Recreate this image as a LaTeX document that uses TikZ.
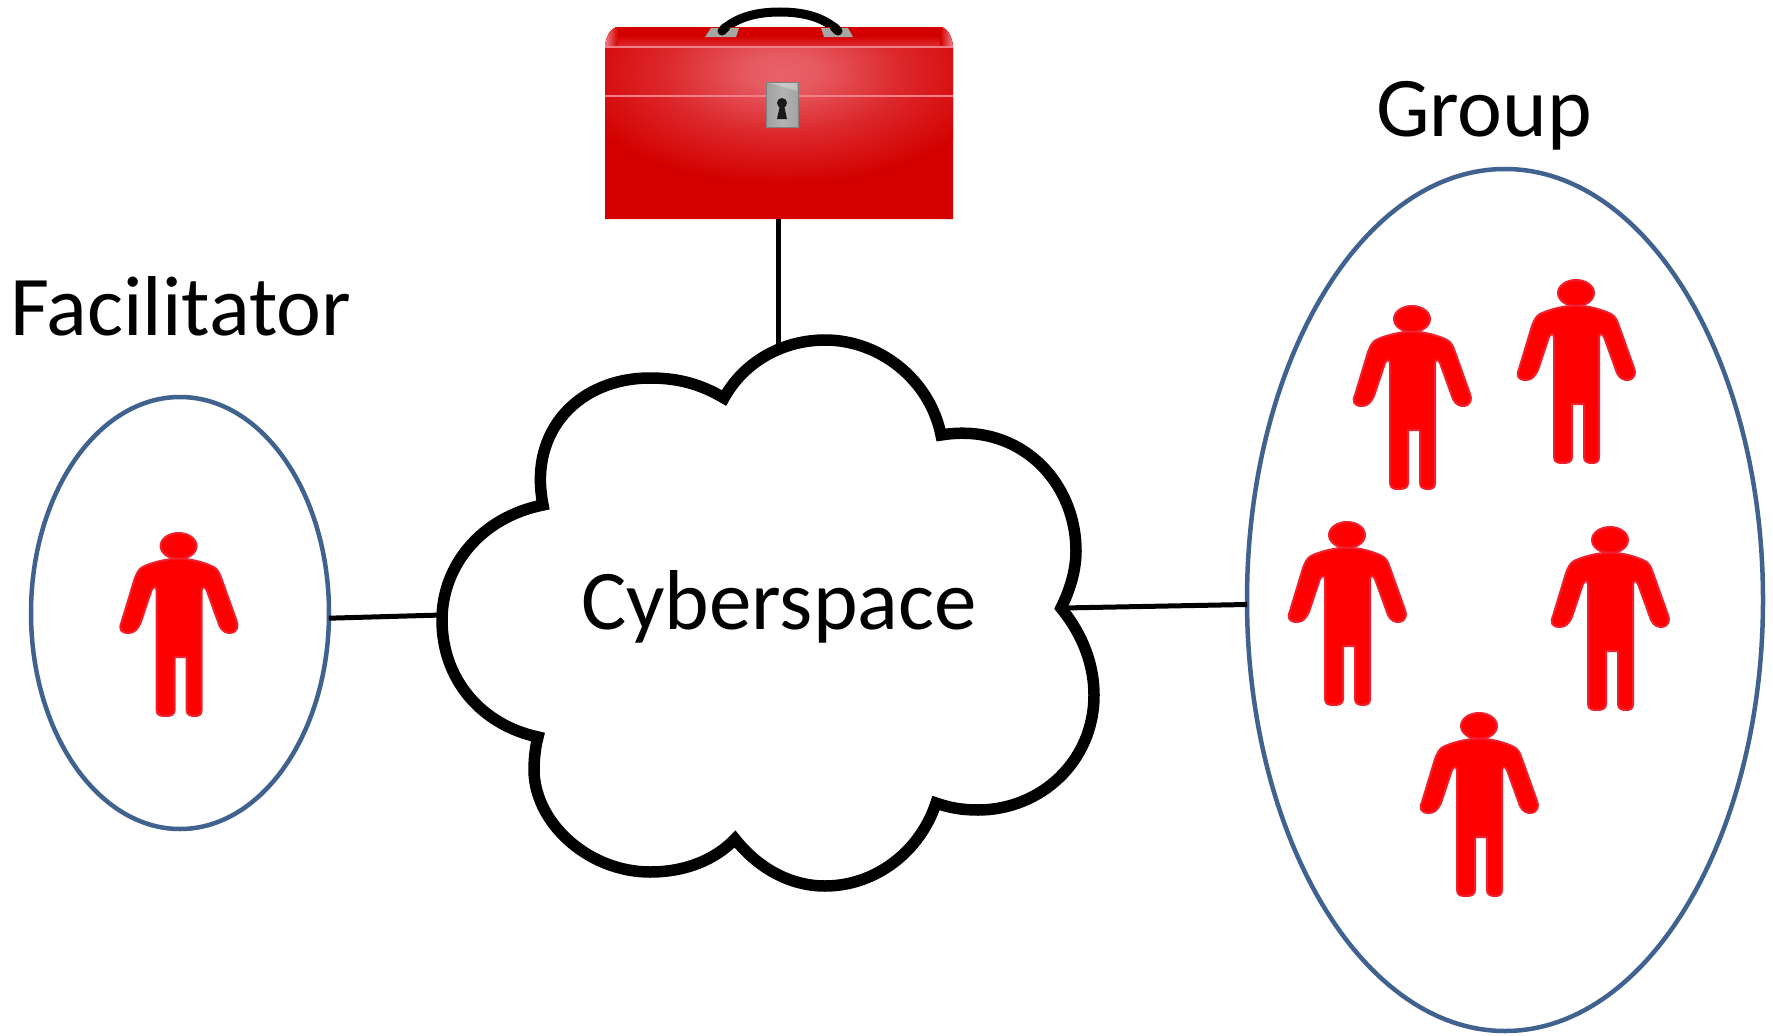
\documentclass[tikz,border=0pt]{standalone}
\usepackage{fontspec}
\setmainfont{Carlito}
\usetikzlibrary{shapes.geometric}
\definecolor{ringblue}{HTML}{3F628F}
\definecolor{manfill}{HTML}{FF0000}
\definecolor{manedge}{HTML}{F0202E}
\definecolor{boxred}{HTML}{D40000}
\definecolor{boxglow}{HTML}{E8626A}
\definecolor{boxline}{HTML}{F08088}
\pgfdeclareradialshading{lidglow}{\pgfpoint{0bp}{0bp}}{color(0bp)=(boxglow); color(4bp)=(boxglow!92!boxred); color(14bp)=(boxglow!40!boxred); color(25bp)=(boxred); color(50bp)=(boxred)}
\pgfdeclarehorizontalshading{lockmetal}{100bp}{color(0bp)=(black!45); color(50bp)=(black!30); color(100bp)=(black!42)}
\tikzset{
  ring/.style={ellipse,draw=ringblue,line width=4.5pt,fill=none,inner sep=0pt,outer sep=0pt},
  link/.style={draw=black,line width=5pt},
  label/.style={anchor=base west,inner sep=0pt,outer sep=0pt,font=\fontsize{85}{100}\selectfont},
  cloudline/.style={draw=black,fill=white,line width=11.5pt,line join=miter},
  person/.pic={
    \fill[manfill,draw=manedge,line width=2pt] (0,0) ellipse (18 and 13);
    \path[fill=manfill,draw=manedge,line width=2pt,line join=round]
      (0,12.5) .. controls (-14,13) and (-28,17) .. (-36,21)
      .. controls (-40,23) and (-42,28) .. (-44,33)
      -- (-57,76) .. controls (-60,83) and (-58,87) .. (-50,87)
      .. controls (-44,87) and (-41,83) .. (-38,77)
      -- (-27,44) .. controls (-25,40) and (-22,40) .. (-22,45)
      -- (-22,164) .. controls (-22,170) and (-17,170) .. (-13,170)
      .. controls (-8,170) and (-4,169) .. (-4,164)
      -- (-4,111) -- (8,111) -- (8,164)
      .. controls (8,169) and (12,170) .. (16,170)
      .. controls (20,170) and (23,169) .. (23,164)
      -- (23,45) .. controls (23,40) and (26,40) .. (28,44)
      -- (41,80) .. controls (44,86) and (48,87) .. (52,87)
      .. controls (59,86) and (60,80) .. (58,75)
      -- (43,33) .. controls (41,27) and (39,23) .. (35,21)
      .. controls (27,17) and (14,13) .. (0,12.5) -- cycle;
  }
}
\begin{document}
\begin{tikzpicture}[x=1pt,y=-1pt]
\useasboundingbox (0,0) rectangle (1773,1036);
\fill[white] (0,0) rectangle (1773,1036);

% toolbox
\node[inner sep=0pt,outer sep=0pt,minimum width=348pt,minimum height=192pt] (toolbox) at (779,123) {};
\draw[black,line width=9pt,line cap=round] (722,31) .. controls (738,15) and (762,12) .. (780,12) .. controls (798,12) and (822,15) .. (838,31);
\begin{scope}
  \clip (605,219) -- (605,47) .. controls (606,36) and (610,30) .. (616,27) -- (942,27) .. controls (948,30) and (952,36) .. (953,47) -- (953,219) -- cycle;
  \fill[boxred] (600,20) rectangle (960,225);
  \shade[shading=lidglow] (782,72) ellipse (215 and 112);
  \fill[boxred] (600,20) rectangle (960,47);
  \shade[top color=boxred,bottom color=boxred!65!boxline] (605,36) rectangle (953,46);
  \shade[left color=boxline,right color=boxred] (605,27) rectangle (618,47);
  \shade[left color=boxred,right color=boxline] (940,27) rectangle (953,47);
  \draw[boxline,line width=1.5pt] (605,47) -- (953,47);
  \draw[boxline,line width=1.5pt] (605,96) -- (953,96);
\end{scope}
\fill[black!35] (711,28) -- (739,28) -- (736,37) -- (705,37) -- cycle;
\fill[black!35] (821,28) -- (848,28) -- (853,37) -- (824,37) -- cycle;
\draw[black,line width=9pt,line cap=round] (722,31) -- (726,27) (838,31) -- (834,27);
\shade[shading=lockmetal,draw=black!50,line width=.8pt] (766,82) rectangle (798,127);
\fill[white,opacity=.3] (770,83) -- (797,83) -- (797,91) -- cycle;
\fill[black!90] (782,103) circle (5);
\fill[black!90] (780,105) -- (784,105) -- (787,119) -- (777,119) -- cycle;

% cloud and circles (nodes)
\node[ring,minimum width=298pt,minimum height=432pt] (fac) at (180,613) {};
\node[ring,minimum width=516pt,minimum height=862pt] (grp) at (1505,600) {};

\coordinate (cloudtop) at (778,350);
\coordinate (cloudleft) at (442,615);
\coordinate (cloudright) at (1063,608);
\draw[link] (toolbox.south -| cloudtop) -- (cloudtop);
\draw[link] (fac.358) -- (cloudleft);
\draw[link] (cloudright) -- (grp.181);

\path[cloudline]
  (724,398) .. controls (745,360) and (785,340) .. (825,340)
  .. controls (880,340) and (930,380) .. (941,435)
  .. controls (1020,422) and (1076,482) .. (1076,551)
  .. controls (1076,570) and (1070,590) .. (1061,608)
  .. controls (1083,635) and (1094,665) .. (1094,695)
  .. controls (1094,762) and (1040,810) .. (978,810)
  .. controls (963,810) and (950,808) .. (936,803)
  .. controls (920,852) and (875,886) .. (825,886)
  .. controls (790,886) and (758,868) .. (735,839)
  .. controls (715,860) and (685,872) .. (650,872)
  .. controls (590,872) and (536,825) .. (534,772)
  .. controls (534,760) and (535,748) .. (538,737)
  .. controls (482,725) and (442,680) .. (442,620)
  .. controls (442,565) and (482,517) .. (543,505)
  .. controls (528,430) and (580,378) .. (650,378)
  .. controls (680,378) and (702,385) .. (724,398) -- cycle;

\node[label] (cybertext) at (581,629) {Cyberspace};
\node[label] (factext) at (10,335) {Facilitator};
\node[label] (grptext) at (1376,136) {Group};

\pic at (178.6,546) {person};
\pic at (1412,319) {person};
\pic at (1576,293) {person};
\pic at (1347,535) {person};
\pic at (1610,540) {person};
\pic at (1479,726) {person};
\end{tikzpicture}
\end{document}
